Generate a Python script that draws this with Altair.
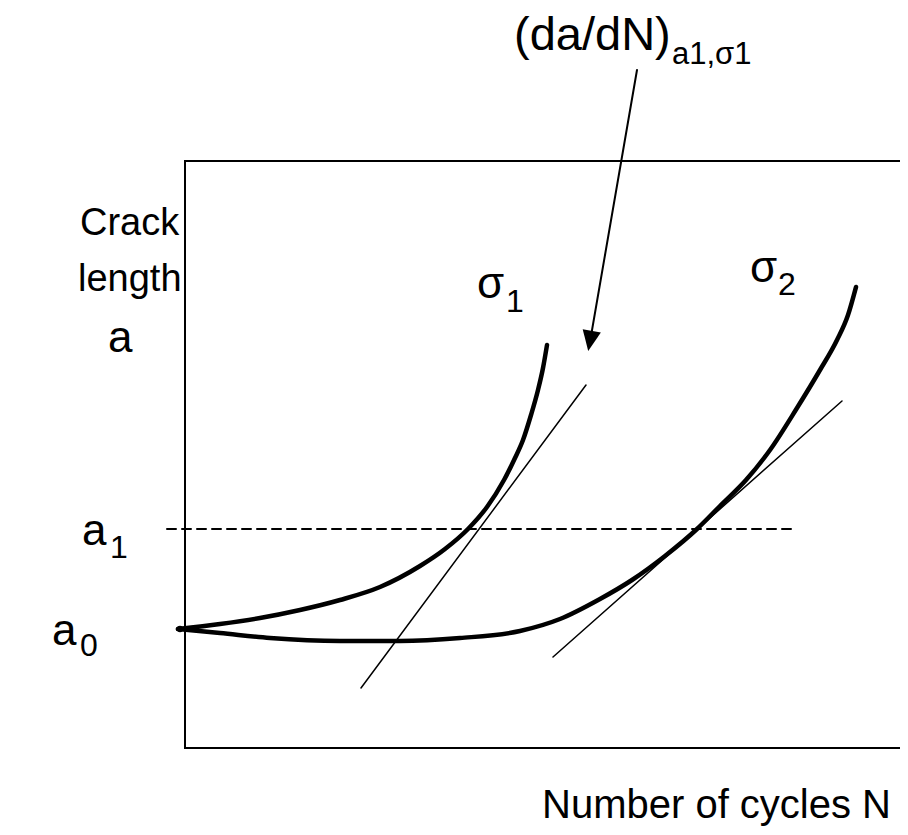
import altair as alt
import pandas as pd

# Schematic coordinates: N = horizontal position, A = crack-length (vertical, up is larger)
H = 835
def A(ypx):
    return H - ypx

# sigma1 curve
s1_N = [178, 220, 260, 300, 340, 380, 420, 445, 468, 487, 504, 515, 523, 531, 538, 543, 547]
s1_y = [629, 624, 618, 610, 600, 587, 566, 549, 529, 507, 480, 458, 440, 415, 390, 368, 345]
# sigma2 curve
s2_N = [178, 220, 270, 340, 400, 460, 520, 560, 600, 632, 665, 697, 720, 746, 770, 797, 820, 837, 848, 856]
s2_y = [629, 633, 638, 641, 641, 638, 631, 619, 599, 580, 556, 529, 506, 480, 450, 408, 370, 340, 315, 287]
# tangents
t1_N = [361, 586]
t1_y = [688, 385]
t2_N = [553, 842]
t2_y = [657, 401]
# a1 level dashed line
d_N = [167, 796]
d_y = [529, 529]
# frame
box = dict(x=185, x2=915, y=748, y2=161)
# arrow
arr_N = [637, 591]
arr_y = [70, 336]
head_N = [590]
head_y = [341]

labels = ["(da/dN)", "a1,σ1", "Crack", "length", "a", "a", "1", "a", "0", "σ", "1", "σ", "2", "Number of cycles N"]
lab_N = [514, 672, 80, 78, 108, 82, 110, 52, 80, 477, 506, 750, 778, 542]
lab_y = [50, 64, 235, 291, 352, 545, 558, 645, 656, 298, 312, 282, 295, 818]
lab_size = [47, 31, 38, 38, 44, 44, 32, 44, 32, 44, 32, 44, 32, 40]

def line_df(xs, ys, name):
    return pd.DataFrame({"N": xs, "A": [A(v) for v in ys], "series": name, "order": range(len(xs))})

xs = alt.Scale(domain=[8, 900])
ys = alt.Scale(domain=[8, 827])
X = alt.X("N:Q", scale=xs, axis=None)
Y = alt.Y("A:Q", scale=ys, axis=None)

frame = alt.Chart(pd.DataFrame({"N": [box["x"]], "N2": [box["x2"]], "A": [A(box["y"])], "A2": [A(box["y2"])]})).mark_rect(
    fill=None, stroke="black", strokeWidth=2, clip=True
).encode(x=X, x2="N2:Q", y=Y, y2="A2:Q")

def curve(xs_, ys_, name, width, dash=None):
    kw = dict(color="black", strokeWidth=width, strokeCap="round", interpolate="monotone")
    if dash:
        kw["strokeDash"] = dash
        kw["interpolate"] = "linear"
    return alt.Chart(line_df(xs_, ys_, name)).mark_line(**kw).encode(x=X, y=Y, order="order:Q")

c1 = curve(s1_N, s1_y, "s1", 4.5)
c2 = curve(s2_N, s2_y, "s2", 4.5)
tg1 = curve(t1_N, t1_y, "t1", 1.5)
tg2 = curve(t2_N, t2_y, "t2", 1.5)
dash = curve(d_N, d_y, "d", 2, dash=[9, 6])
arrow = curve(arr_N, arr_y, "arr", 2)
head = alt.Chart(pd.DataFrame({"N": head_N, "A": [A(v) for v in head_y]})).mark_point(
    shape="M-0.9,-1L0.9,-1L0,1Z", filled=True, color="black", size=420, angle=10, opacity=1
).encode(x=X, y=Y)
start = alt.Chart(pd.DataFrame({"N": [180], "A": [A(629)]})).mark_point(
    shape="circle", filled=True, color="black", size=40, opacity=1
).encode(x=X, y=Y)

txt = alt.Chart(pd.DataFrame({"N": lab_N, "A": [A(v) for v in lab_y], "label": labels, "fs": lab_size})).mark_text(
    font="Liberation Sans", align="left", baseline="alphabetic", color="black"
).encode(x=X, y=Y, text="label:N", size=alt.Size("fs:Q", scale=None, legend=None))

chart = alt.layer(frame, dash, tg1, tg2, c1, c2, start, arrow, head, txt).properties(
    width=892, height=819, padding=0, autosize="none"
).configure_view(stroke=None)

chart.save("out.html", embed_options={"renderer": "svg", "actions": False})
